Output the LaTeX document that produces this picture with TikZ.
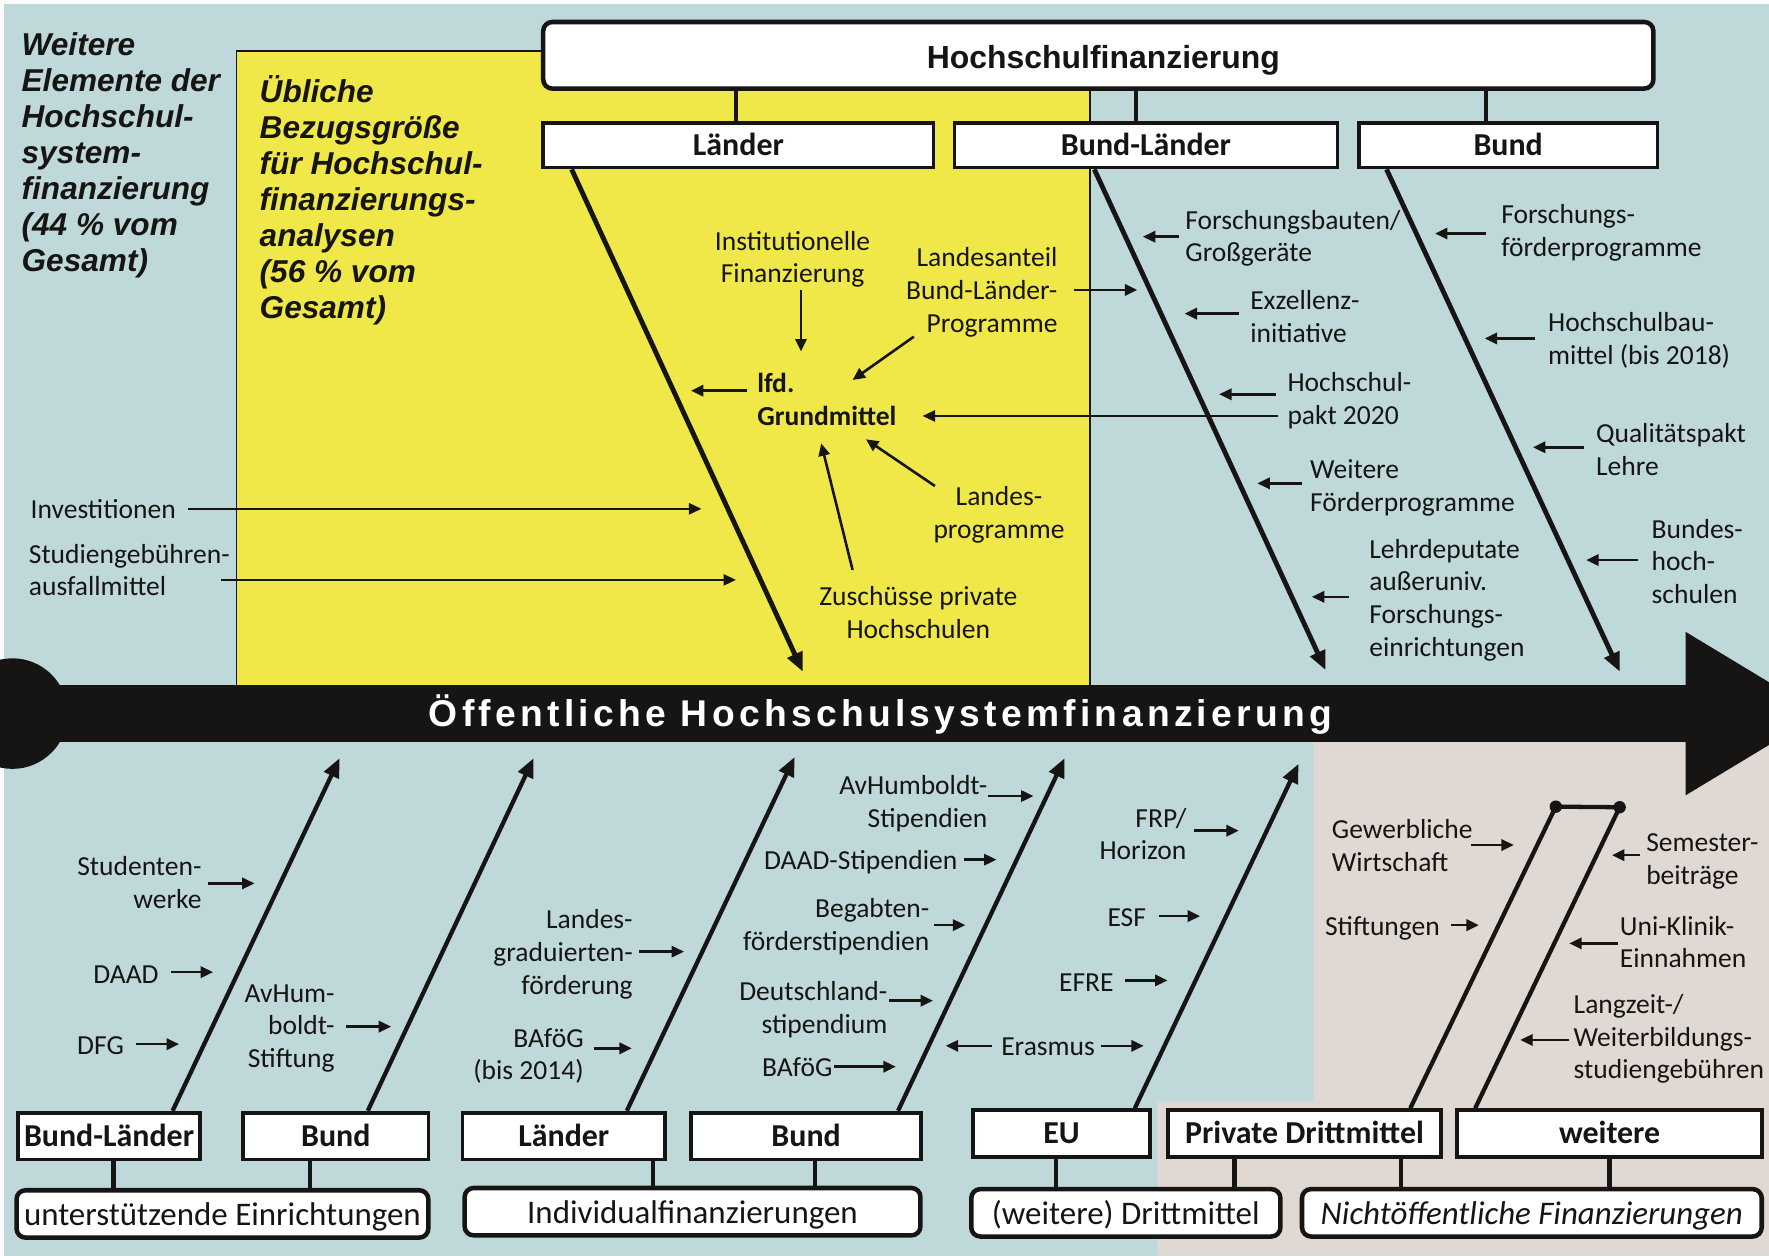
\documentclass[tikz,border=0pt]{standalone}
\usepackage{fontspec}
\setmainfont{Carlito}
\newfontfamily\arialf{Liberation Sans}
\newfontfamily\arialsp{Liberation Sans}[LetterSpace=11.5]
\usetikzlibrary{arrows.meta,calc}
\definecolor{bgblue}{RGB}{191,217,219}
\definecolor{ylw}{RGB}{240,232,72}
\definecolor{beige}{RGB}{223,216,211}
\definecolor{ink}{RGB}{22,21,20}
\newcommand\lab{\fontsize{24.4}{29}\selectfont}
\newcommand\boxf{\fontsize{28.3}{32}\selectfont\bfseries}
\newcommand\rowf{\fontsize{29.2}{33}\selectfont}
\newcommand\bigit{\arialf\fontsize{28}{32}\selectfont\bfseries\itshape}
\newcommand\ft{\rule{0pt}{26pt}}
\begin{document}
\begin{tikzpicture}[x=1pt,y=-1pt,
  lab/.style={font=\lab, inner sep=0pt, text=ink, execute at begin node=\ft, execute at end node=\strut},
  arr/.style={draw=ink, line width=2.3pt, -{Triangle[length=11pt,width=10pt]}},
  thinarr/.style={draw=ink, line width=1.5pt, -{Triangle[length=11pt,width=10pt]}},
  bone/.style={draw=ink, line width=4.3pt, -{Triangle[length=17pt,width=14pt]}},
  sqbox/.style={draw=ink, fill=white, line width=3.3pt, inner sep=0pt, font=\boxf, text=ink, text height=21.5pt, text depth=3.3pt},
  rbox/.style={draw=ink, fill=white, line width=4pt, rounded corners=8pt, inner sep=0pt, font=\rowf, text=ink, text height=24pt, text depth=3.2pt},
  conn/.style={draw=ink, line width=4pt},
  bigtext/.style={font=\bigit, inner sep=0pt, align=left, anchor=west, text=ink, execute at begin node=\strut, execute at end node=\strut}
]
\useasboundingbox (0,0) rectangle (1568,1113);
% ---------- backgrounds ----------
\begin{scope}
\clip (0,0) rectangle (1568,1113);
\fill[white!94!bgblue] (0,0) rectangle (1568,1113);
\fill[bgblue] (3.5,3.5) rectangle (1568,1113);
\fill[beige] (1164.4,658) -- (1568,658) -- (1568,1113) -- (1026,1113) -- (1026,976.5) -- (1164.4,976.5) -- cycle;
\filldraw[fill=ylw, draw=ink, line width=1.3pt] (209.6,45) rectangle (966,608);
\fill[ink] (0,607.5) rectangle (1500,658);
\fill[ink] (11,632.5) circle[radius=49];
\fill[ink] (1494,560) -- (1614,632.5) -- (1494,705) -- cycle;
\end{scope}
\node[font={\arialsp\fontsize{33}{38}\selectfont\bfseries}, text=white, anchor=base, inner sep=0pt] (ohs) at (780.5,644) {Öffentliche Hochschulsystemfinanzierung};

% ---------- big italic texts ----------
\node[bigtext] (wel) at (19,139.5) {Weitere\\Elemente der\\Hochschul-\\system-\\finanzierung\\(44 \% vom\\Gesamt)};
\node[bigtext] (ubl) at (230,179.5) {Übliche\\Bezugsgröße\\für Hochschul-\\finanzierungs-\\analysen\\(56 \% vom\\Gesamt)};

% ---------- top boxes ----------
\node[rbox, font={\arialf\fontsize{28.3}{32}\selectfont\bfseries}, text height=27.5pt, text depth=3.3pt, minimum width=984, minimum height=59] (hsf) at (973.5,49) {\hspace*{9pt}Hochschulfinanzierung};
\node[sqbox, minimum width=346, minimum height=39.5] (laender) at (654.5,128.75) {Länder};
\node[sqbox, minimum width=339.5, minimum height=39.5] (bl) at (1015.75,128.75) {Bund-Länder};
\node[sqbox, minimum width=264.6, minimum height=39.5] (bundtop) at (1336.8,128.75) {Bund};
\draw[conn] ([xshift=-2pt]laender.north) -- ([xshift=-2pt]laender.north |- hsf.south);
\draw[conn] ([xshift=-8.75pt]bl.north) -- ([xshift=-8.75pt]bl.north |- hsf.south);
\draw[conn] ([xshift=-19.8pt]bundtop.north) -- ([xshift=-19.8pt]bundtop.north |- hsf.south);

% ---------- top bones ----------
\coordinate (t1) at (711.6,595.4);
\coordinate (t2) at (1175,594);
\coordinate (t3) at (1435.8,595.4);
\draw[bone] ([xshift=-147.8pt]laender.south) -- (t1);
\draw[bone] ([xshift=-45.75pt]bl.south) -- (t2);
\draw[bone] ([xshift=-107.8pt]bundtop.south) -- (t3);

% ---------- Laender labels ----------
\node[lab, align=center] (inst) at (702.5,227.5) {\ft Institutionelle\\Finanzierung};
\node[lab, align=right, anchor=east] (la) at (937.5,257) {\ft Landesanteil\\Bund-Länder-\\Programme};
\node[lab, align=left, anchor=west, font=\lab\bfseries] (gm) at (671,354) {\ft lfd.\\Grundmittel};
\node[lab, align=center] (lp) at (885.5,454) {\ft Landes-\\programme};
\node[lab, align=center] (zp) at (814,542.5) {\ft Zuschüsse private\\Hochschulen};
\node[lab, anchor=west] (inv) at (27,450.6) {Investitionen};
\node[lab, align=left, anchor=west] (sg) at (25.4,505) {\ft Studiengebühren-\\ausfallmittel};

\draw[arr] ([shift={(7.5,29.5)}]inst.center) -- ++(0,54.5);
\draw[arr] ([shift={(14.5,0)}]la.east) -- ++(56,0);
\draw[arr] ([shift={(-127.5,41.4)}]la.east) -- ++(-54.3,38.4);
\draw[arr] ([shift={(-8.6,-7.7)}]gm.west) -- ++(-49.9,0);
\draw[arr] ([shift={(-56.8,-23.2)}]lp.center) -- ++(-61.1,-41.4);
\draw[arr] ([shift={(-58.3,-37.3)}]zp.center) -- ++(-27.8,-112.2);
\draw[thinarr] ([shift={(139.2,0.4)}]inv.west) -- ++(455.5,0);
\draw[thinarr] ([shift={(170.6,9)}]sg.west) -- ++(456.3,0);

% ---------- Bund-Laender labels ----------
\node[lab, align=left, anchor=west] (fb) at (1050.5,209) {\ft Forschungsbauten/\\Großgeräte};
\node[lab, align=left, anchor=west] (ex) at (1108,280.5) {\ft Exzellenz-\\initiative};
\node[lab, align=left, anchor=west] (hp) at (1141,353) {\ft Hochschul-\\pakt 2020};
\node[lab, align=left, anchor=west] (wf) at (1161,430) {\ft Weitere\\Förderprogramme};
\node[lab, align=left, anchor=west] (ld) at (1213.5,529.5) {\ft Lehrdeputate\\außeruniv.\\Forschungs-\\einrichtungen};
\draw[arr] ([shift={(-5.5,0.8)}]fb.west) -- ++(-32,0);
\draw[arr] ([shift={(-10,-2.5)}]ex.west) -- ++(-48,0);
\draw[arr] ([shift={(-10.4,-3.5)}]hp.west) -- ++(-50,0);
\draw[arr] ([shift={(-7,-1.6)}]wf.west) -- ++(-39.5,0);
\draw[arr] ([shift={(-17.5,-0.5)}]ld.west) -- ++(-33.2,0);
\draw[thinarr] ([shift={(-8,15.7)}]hp.west) -- ++(-315.2,0);

% ---------- Bund labels ----------
\node[lab, align=left, anchor=west] (ff) at (1330.5,204) {\ft Forschungs-\\förderprogramme};
\node[lab, align=left, anchor=west] (hb) at (1372,300) {\ft Hochschulbau-\\mittel (bis 2018)};
\node[lab, align=left, anchor=west] (qp) at (1414.5,398.5) {\ft Qualitätspakt\\Lehre};
\node[lab, align=left, anchor=west] (bh) at (1463.8,497.3) {\ft Bundes-\\hoch-\\schulen};
\draw[arr] ([shift={(-13.5,3)}]ff.west) -- ++(-45,0);
\draw[arr] ([shift={(-11.4,0)}]hb.west) -- ++(-44.6,0);
\draw[arr] ([shift={(-10.5,-2)}]qp.west) -- ++(-45.2,0);
\draw[arr] ([shift={(-12.3,-0.9)}]bh.west) -- ++(-45.5,0);

% ---------- bottom boxes ----------
\node[sqbox, minimum width=161.5, minimum height=41.5] (b1) at (96.65,1007) {Bund-Länder};
\node[sqbox, minimum width=164.5, minimum height=41.5] (b2) at (297.6,1007) {Bund};
\node[sqbox, minimum width=179.5, minimum height=41.5] (b3) at (499.75,1007) {Länder};
\node[sqbox, minimum width=204, minimum height=41.5] (b4) at (714.5,1007) {Bund};
\node[sqbox, minimum width=157, minimum height=41.5] (b5) at (940.85,1004.8) {EU};
\node[sqbox, minimum width=242, minimum height=41.5] (b6) at (1156.3,1004.8) {Private Drittmittel};
\node[sqbox, minimum width=270, minimum height=41.5] (b7) at (1426.75,1004.8) {weitere};

\node[rbox, minimum width=365, minimum height=42] (r1) at (197.15,1076) {unterstützende Einrichtungen};
\node[rbox, minimum width=404, minimum height=42] (r2) at (613.85,1074) {Individualfinanzierungen};
\node[rbox, minimum width=274, minimum height=42] (r3) at (997.9,1075) {(weitere) Drittmittel};
\node[rbox, minimum width=407.5, minimum height=42, font=\rowf\itshape] (r4) at (1357.8,1075) {Nichtöffentliche Finanzierungen};

\draw[conn] ([xshift=4pt]b1.south) -- ([xshift=4pt]b1.south |- r1.north);
\draw[conn] ([xshift=-22.8pt]b2.south) -- ([xshift=-22.8pt]b2.south |- r1.north);
\draw[conn] ([xshift=79.25pt]b3.south) -- ([xshift=79.25pt]b3.south |- r2.north);
\draw[conn] ([xshift=8pt]b4.south) -- ([xshift=8pt]b4.south |- r2.north);
\draw[conn] ([xshift=-5pt]b5.south) -- ([xshift=-5pt]b5.south |- r3.north);
\draw[conn] ([xshift=-62.3pt]b6.south) -- ([xshift=-62.3pt]b6.south |- r3.north);
\draw[conn] ([xshift=85.7pt]b6.south) -- ([xshift=85.7pt]b6.south |- r4.north);
\draw[conn] (b7.south) -- (b7.south |- r4.north);

% ---------- bottom bones ----------
\coordinate (u1) at (301,672);
\coordinate (u2) at (473,672);
\coordinate (u3) at (704.3,671);
\coordinate (u4) at (943.7,672);
\coordinate (u5) at (1151,677);
\coordinate (d1) at (1379,715);
\coordinate (d2) at (1435.6,715.5);
\draw[bone, line width=3.8pt] ([xshift=56.35pt]b1.north) -- (u1);
\draw[bone, line width=3.8pt] ([xshift=28.4pt]b2.north) -- (u2);
\draw[bone, line width=3.8pt] ([xshift=55.85pt]b3.north) -- (u3);
\draw[bone, line width=3.8pt] ([xshift=81.5pt]b4.north) -- (u4);
\draw[bone, line width=3.8pt] ([xshift=65pt]b5.north) -- (u5);
\draw[draw=ink, line width=3.8pt] ([xshift=93.7pt]b6.north) -- (d1) -- (d2) -- ([xshift=-119.25pt]b7.north);
\fill[ink] (d1) circle[radius=5.5];
\fill[ink] (d2) circle[radius=5.5];

% ---------- bottom labels ----------
\node[lab, align=right, anchor=east] (sw) at (178.8,782) {\ft Studenten-\\werke};
\node[lab, anchor=east] (daad) at (140.8,862.7) {DAAD};
\node[lab, anchor=east] (dfg) at (110,926.3) {DFG};
\node[lab, align=right, anchor=east] (avs) at (296.8,908.6) {\ft AvHum-\\boldt-\\Stiftung};
\node[lab, align=right, anchor=east] (lg) at (561,843.5) {\ft Landes-\\graduierten-\\förderung};
\node[lab, align=right, anchor=east] (bafa) at (517.5,934) {\ft BAföG\\(bis 2014)};
\node[lab, align=right, anchor=east] (avst) at (875.3,710) {\ft AvHumboldt-\\Stipendien};
\node[lab, anchor=east] (dst) at (848.8,762) {DAAD-Stipendien};
\node[lab, align=right, anchor=east] (beg) at (823.9,819.4) {\ft Begabten-\\förderstipendien};
\node[lab, align=right, anchor=east] (ds) at (786.7,892.7) {\ft Deutschland-\\stipendium};
\node[lab, anchor=east] (bafb) at (738,945.5) {BAföG};
\node[lab, align=right, anchor=east] (frp) at (1051.8,739) {\ft FRP/\\Horizon};
\node[lab, anchor=east] (esf) at (1016,813) {ESF};
\node[lab, anchor=east] (efre) at (987.3,870) {EFRE};
\node[lab] (era) at (929,927) {Erasmus};
\node[lab, align=left, anchor=west] (gw) at (1180.4,749.4) {\ft Gewerbliche\\Wirtschaft};
\node[lab, anchor=west] (st) at (1174.3,820.8) {Stiftungen};
\node[lab, align=left, anchor=west] (sb) at (1459,761) {\ft Semester-\\beiträge};
\node[lab, align=left, anchor=west] (uk) at (1435.6,834.8) {\ft Uni-Klinik-\\Einnahmen};
\node[lab, align=left, anchor=west] (lz) at (1394.7,918.7) {\ft Langzeit-/\\Weiterbildungs-\\studiengebühren};

\draw[arr] ([shift={(5.4,1)}]sw.east) -- ++(41.4,0);
\draw[arr] ([shift={(11.2,-1)}]daad.east) -- ++(36.9,0);
\draw[arr] ([shift={(10.4,-0.8)}]dfg.east) -- ++(38.3,0);
\draw[arr] ([shift={(10.2,1.4)}]avs.east) -- ++(39.7,0);
\draw[arr] ([shift={(5.7,0)}]lg.east) -- ++(39.6,0);
\draw[arr] ([shift={(8.8,-4.8)}]bafa.east) -- ++(33.7,0);
\draw[arr] ([shift={(0,-4.4)}]avst.east) -- ++(40.7,0);
\draw[arr] ([shift={(5.9,0)}]dst.east) -- ++(28.5,0);
\draw[arr] ([shift={(4,0.6)}]beg.east) -- ++(27.7,0);
\draw[arr] ([shift={(1.7,-5.7)}]ds.east) -- ++(38.6,0);
\draw[arr] ([shift={(1,0)}]bafb.east) -- ++(55,0);
\draw[arr] ([shift={(6.5,-2.7)}]frp.east) -- ++(39.7,0);
\draw[arr] ([shift={(11,-1)}]esf.east) -- ++(36.7,0);
\draw[arr] ([shift={(9.9,-1)}]efre.east) -- ++(37.6,0);
\draw[arr] ([shift={(-8,0)}]era.west) -- ++(-41,0);
\draw[arr] ([shift={(5.4,0)}]era.east) -- ++(37.6,0);
\draw[arr] ([shift={(123.6,-0.4)}]gw.west) -- ++(37.8,0);
\draw[arr] ([shift={(111.6,-0.8)}]st.west) -- ++(24.9,0);
\draw[arr] ([shift={(-5.6,-3)}]sb.west) -- ++(-24.6,0);
\draw[arr] ([shift={(-1.2,1.4)}]uk.west) -- ++(-43.4,0);
\draw[arr] ([shift={(-3.7,3.1)}]lz.west) -- ++(-43.5,0);
\end{tikzpicture}
\end{document}
